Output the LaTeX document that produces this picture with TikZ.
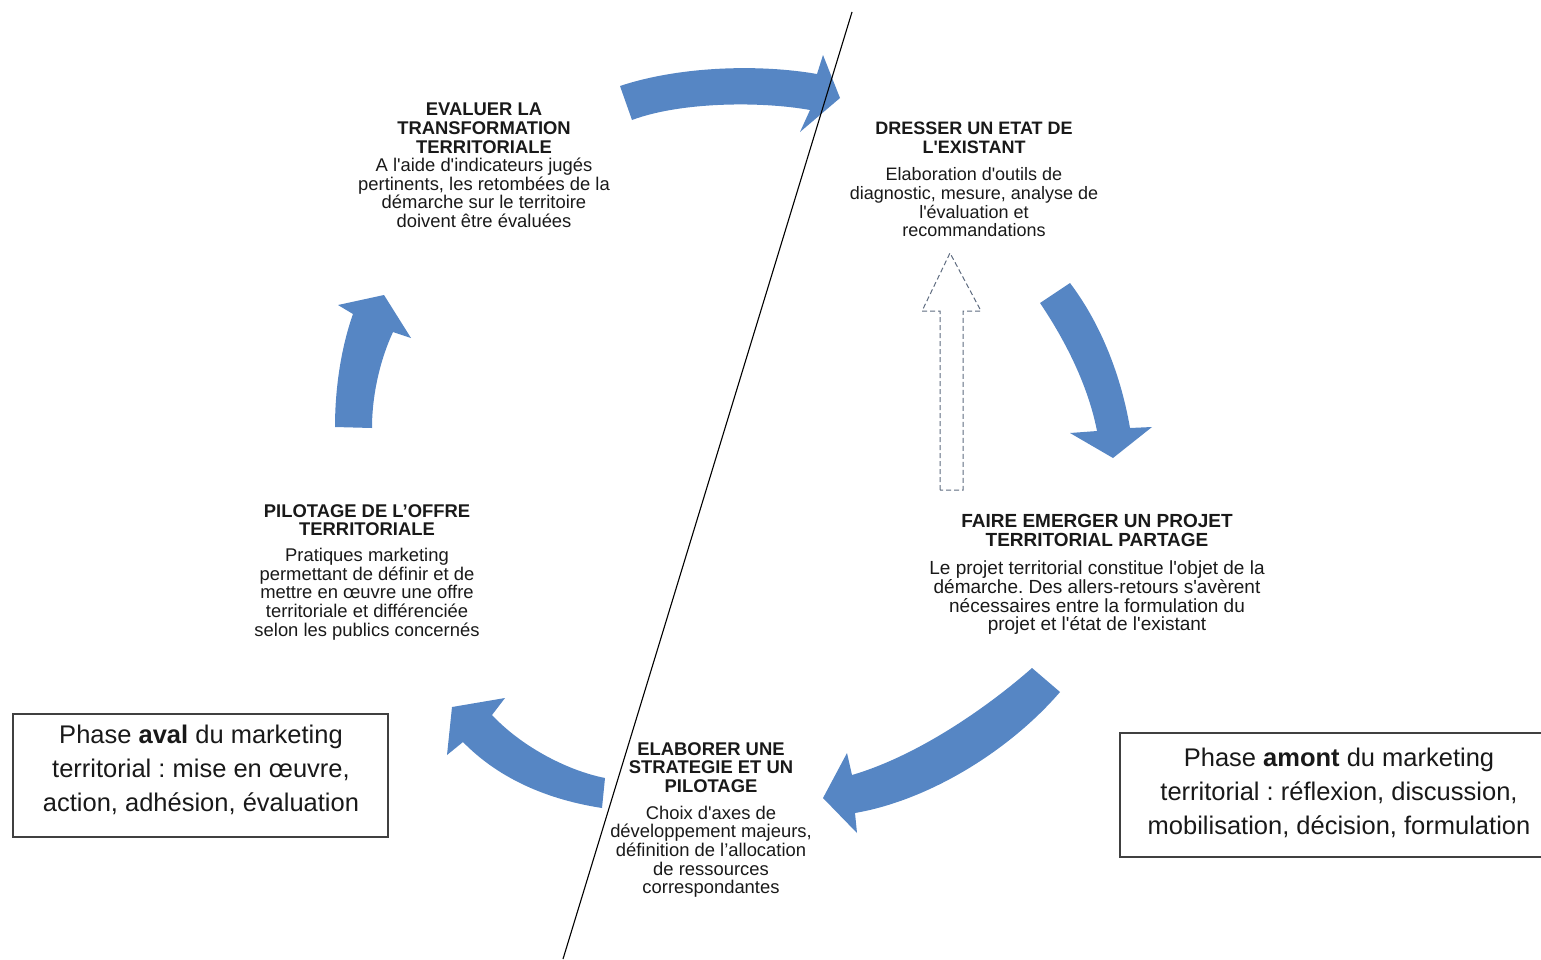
\documentclass[tikz,border=0pt]{standalone}
\usepackage{fontspec}
\setmainfont{Liberation Sans}[Ligatures=TeXOff]
\frenchspacing
\definecolor{arrowblue}{RGB}{86,134,196}
\definecolor{dashgray}{RGB}{95,108,128}
\definecolor{txt}{RGB}{25,25,25}
\begin{document}
\begin{tikzpicture}[x=1pt,y=-1pt,
  blk/.style={align=center, inner sep=0pt, anchor=north, text=txt,
    font=\fontsize{18.4}{18.6}\selectfont\frenchspacing},
  phase/.style={align=center, inner sep=0pt, anchor=north, text=txt,
    font=\fontsize{25.5}{34}\selectfont\frenchspacing},
  bluearrow/.style={fill=arrowblue, draw=none},
  dasharrow/.style={draw=dashgray, line width=1pt, dash pattern=on 5pt off 3pt, fill=white},
  boxline/.style={draw=black!75, line width=1.3pt},
]
\useasboundingbox (0,0) rectangle (1541,959);

% blue block arrows
\path[bluearrow] (620,86) .. controls (680,66) and (760,64) .. (817,74)
  -- (823,55) -- (840,98) -- (800,132) -- (810,110)
  .. controls (760,101) and (680,102) .. (632,120) -- cycle;
\path[bluearrow] (1040,303) .. controls (1065,340) and (1088,385) .. (1097,431)
  -- (1070,433) -- (1113,458) -- (1152,427) -- (1130,428)
  .. controls (1120,370) and (1098,320) .. (1070,283) -- cycle;
\path[bluearrow] (1032,668) .. controls (990,705) and (920,755) .. (852,775)
  -- (847,753) -- (823,798) -- (857,833) -- (855,813)
  .. controls (930,800) and (1010,750) .. (1060,692) -- cycle;
\path[bluearrow] (605,778) .. controls (565,770) and (520,745) .. (492,715)
  -- (505,698) -- (452,707) -- (447,755) -- (463,742)
  .. controls (500,780) and (550,800) .. (602,808) -- cycle;
\path[bluearrow] (335,427) .. controls (335,385) and (342,345) .. (353,314)
  -- (338,305) -- (384,295) -- (411,338) -- (393,332)
  .. controls (380,360) and (372,395) .. (372,428) -- cycle;

% dashed up arrow
\path[dasharrow] (940,490) -- (940,311) -- (922,311) -- (950,253) -- (981,311)
  -- (963,311) -- (963,490) -- cycle;

% dividing line
\coordinate (ltop) at (852,12);
\coordinate (lbot) at (563,959);
\draw[black, line width=1.1pt] (ltop) -- (lbot);

% text blocks
\node[blk] (evaluer) at (484,103) {\textbf{EVALUER LA}\\\textbf{TRANSFORMATION}\\\textbf{TERRITORIALE}\\
A l'aide d'indicateurs jugés\\pertinents, les retombées de la\\démarche sur le territoire\\doivent être évaluées};

\node[blk, font=\fontsize{18}{18.6}\selectfont\frenchspacing] (dresser) at (974,122) {\textbf{DRESSER UN ETAT DE}\\\textbf{L'EXISTANT}\\[9pt]
Elaboration d'outils de\\diagnostic, mesure, analyse de\\l'évaluation et\\recommandations};

\node[blk, font=\fontsize{19}{18.8}\selectfont\frenchspacing] (faire) at (1097,514.5) {\textbf{FAIRE EMERGER UN PROJET}\\\textbf{TERRITORIAL PARTAGE}\\[9pt]
Le projet territorial constitue l'objet de la\\démarche. Des allers-retours s'avèrent\\nécessaires entre la formulation du\\projet et l'état de l'existant};

\node[blk] (pilotage) at (367,504) {\textbf{PILOTAGE DE L’OFFRE}\\\textbf{TERRITORIALE}\\[7.5pt]
Pratiques marketing\\permettant de définir et de\\mettre en œuvre une offre\\territoriale et différenciée\\selon les publics concernés};

\node[blk] (elaborer) at (711,742) {\textbf{ELABORER UNE}\\\textbf{STRATEGIE ET UN}\\\textbf{PILOTAGE}\\[8.5pt]
Choix d'axes de\\développement majeurs,\\définition de l’allocation\\de ressources\\correspondantes};

% phase boxes
\draw[boxline] (13,714) rectangle (388,837);
\node[phase] (aval) at (201,724.5) {Phase \textbf{aval} du marketing\\territorial : mise en œuvre,\\action, adhésion, évaluation};

\draw[boxline] (1545,733) -- (1120,733) -- (1120,857) -- (1545,857);
\node[phase] (amont) at (1339,748) {Phase \textbf{amont} du marketing\\territorial : réflexion, discussion,\\mobilisation, décision, formulation};
\end{tikzpicture}
\end{document}
